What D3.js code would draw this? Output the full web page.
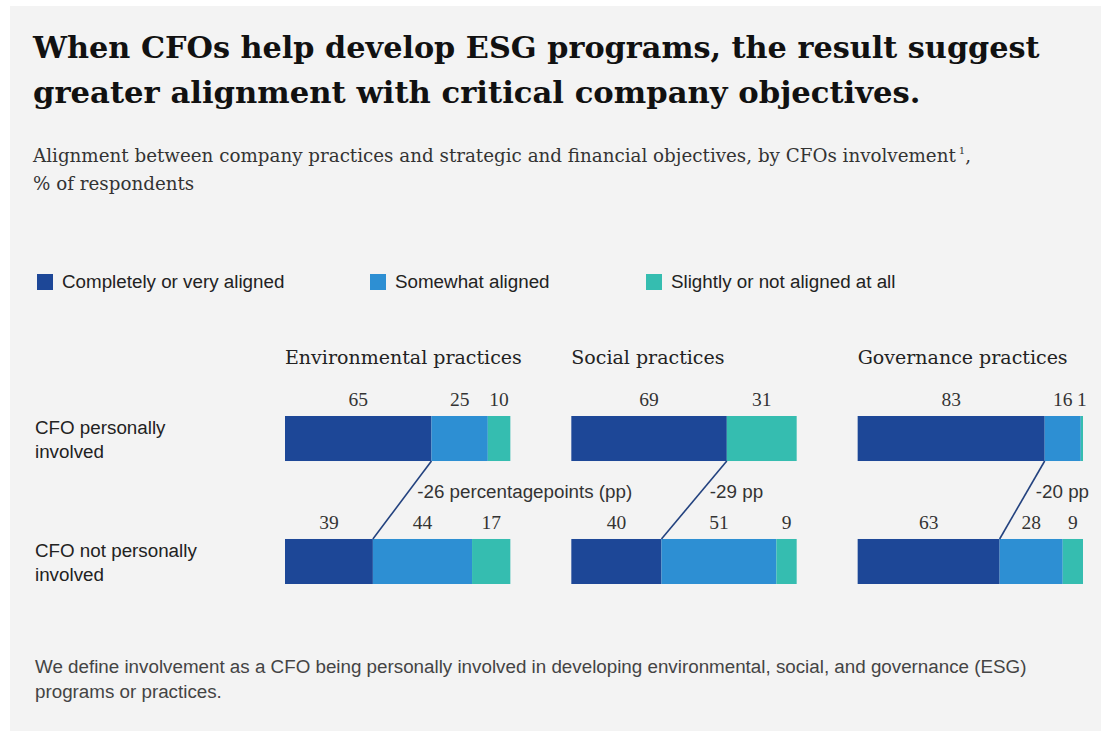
<!DOCTYPE html>
<html>
<head>
<meta charset="utf-8">
<script src="https://cdn.jsdelivr.net/npm/d3@7"></script>
<style>
  html, body { margin: 0; padding: 0; background: #ffffff; }
  svg { display: block; }
  .serif { font-family: "DejaVu Serif", "Liberation Serif", serif; }
  .num { font-family: "Liberation Serif", "DejaVu Serif", serif; }
  .sans { font-family: "Liberation Sans", Arial, sans-serif; }
</style>
</head>
<body>
<svg id="chart" width="1113" height="733"></svg>
<script>
// ---- data ----
const categories = ["Environmental practices", "Social practices", "Governance practices"];
const rowLabels = [["CFO personally", "involved"], ["CFO not personally", "involved"]];
const seriesNames = ["Completely or very aligned", "Somewhat aligned", "Slightly or not aligned at all"];

// CFO personally involved
const involvedCompletely = [65, 69, 83];
const involvedSomewhat   = [25, 0, 16];
const involvedSlightly   = [10, 31, 1];
// CFO not personally involved
const notInvolvedCompletely = [39, 40, 63];
const notInvolvedSomewhat   = [44, 51, 28];
const notInvolvedSlightly   = [17, 9, 9];

const diffSuffix = [" percentagepoints (pp)", " pp", " pp"];

const titleLines = [
  "When CFOs help develop ESG programs, the result suggest",
  "greater alignment with critical company objectives."
];
const subtitleLines = [
  "Alignment between company practices and strategic and financial objectives, by CFOs involvement",
  "% of respondents"
];
const footnoteLines = [
  "We define involvement as a CFO being personally involved in developing environmental, social, and governance (ESG)",
  "programs or practices."
];

// ---- setup ----
const colors = ["#1d4797", "#2d8fd3", "#35bdb0"];
const svg = d3.select("#chart");
const sansSize = 18.8;

svg.append("rect").attr("x", 10).attr("y", 6).attr("width", 1091).attr("height", 725)
  .attr("fill", "#f3f3f3");

// Scale the font so a text spans a given width
function fit(sel, width) {
  const node = sel.node();
  const fs = parseFloat(sel.attr("font-size"));
  const len = node.getComputedTextLength();
  sel.attr("font-size", (fs * width / len).toFixed(2));
  return sel;
}

// ---- title ----
const titleWidths = [1007, 888];
titleLines.forEach((t, i) => {
  const s = svg.append("text").attr("class", "serif")
    .attr("x", 33).attr("y", 58 + i * 45)
    .attr("font-size", 34).attr("font-weight", "bold").attr("fill", "#111")
    .text(t);
  fit(s, titleWidths[i]);
});

// ---- subtitle ----
const sub1 = svg.append("text").attr("class", "serif")
  .attr("x", 33).attr("y", 162).attr("font-size", 18).attr("fill", "#333");
sub1.append("tspan").text(subtitleLines[0]);
fit(sub1, 923);
const subFs = parseFloat(sub1.attr("font-size"));
sub1.append("tspan").attr("font-size", subFs * 0.55).attr("dy", -8).attr("dx", 3).text("1");
sub1.append("tspan").attr("dy", 8).text(",");
svg.append("text").attr("class", "serif")
  .attr("x", 33).attr("y", 190).attr("font-size", subFs).attr("fill", "#333")
  .text(subtitleLines[1]);

// ---- legend ----
const legendX = [37, 370, 646];
seriesNames.forEach((n, i) => {
  const g = svg.append("g").attr("transform", `translate(${legendX[i]},274)`);
  g.append("rect").attr("width", 16).attr("height", 16).attr("fill", colors[i]);
  g.append("text").attr("class", "sans").attr("x", 25).attr("y", 14)
    .attr("font-size", sansSize).attr("fill", "#222").text(n);
});

// ---- scales ----
const xBand = d3.scaleBand().domain(categories).range([285, 1083]).paddingInner(0.213);
const x = d3.scaleLinear().domain([0, 100]).range([0, xBand.bandwidth()]);
const rowKeys = ["involved", "notInvolved"];
const y = d3.scaleBand().domain(rowKeys).range([416, 584]).paddingInner(0.634);

const rows = {
  involved: [involvedCompletely, involvedSomewhat, involvedSlightly],
  notInvolved: [notInvolvedCompletely, notInvolvedSomewhat, notInvolvedSlightly]
};

// ---- row labels ----
rowKeys.forEach((k, i) => {
  rowLabels[i].forEach((line, j) => {
    svg.append("text").attr("class", "sans")
      .attr("x", 35).attr("y", y(k) + 18 + j * 24)
      .attr("font-size", sansSize).attr("fill", "#222").text(line);
  });
});

// ---- panels ----
categories.forEach((cat, ci) => {
  const g = svg.append("g").attr("transform", `translate(${xBand(cat)},0)`);

  g.append("text").attr("class", "serif")
    .attr("x", 0).attr("y", 364).attr("font-size", 19).attr("fill", "#222")
    .text(cat);

  rowKeys.forEach(k => {
    const vals = rows[k].map(s => s[ci]);
    const stacked = [];
    let acc = 0;
    vals.forEach((v, si) => { stacked.push({ s: si, v, x0: acc, x1: acc + v }); acc += v; });

    g.selectAll(null).data(stacked.filter(d => d.v > 0)).join("rect")
      .attr("x", d => x(d.x0)).attr("y", y(k))
      .attr("width", d => x(d.x1) - x(d.x0)).attr("height", y.bandwidth())
      .attr("fill", d => colors[d.s]);

    g.selectAll(null).data(stacked.filter(d => d.v > 0)).join("text")
      .attr("class", "num")
      .attr("x", d => (x(d.x0) + x(d.x1)) / 2)
      .attr("y", y(k) - 10)
      .attr("text-anchor", "middle").attr("font-size", 19.5).attr("fill", "#333")
      .text(d => d.v);
  });

  // connector between the "completely" segment ends
  const xTop = x(involvedCompletely[ci]);
  const yTop = y("involved") + y.bandwidth();
  const xBot = x(notInvolvedCompletely[ci]);
  const yBot = y("notInvolved");
  g.append("line")
    .attr("x1", xTop).attr("y1", yTop).attr("x2", xBot).attr("y2", yBot)
    .attr("stroke", "#23427f").attr("stroke-width", 1.6);

  const diff = notInvolvedCompletely[ci] - involvedCompletely[ci];
  const ty = 492;
  const lx = xTop + (xBot - xTop) * (ty - yTop) / (yBot - yTop);
  g.append("text").attr("class", "sans")
    .attr("x", lx + 9).attr("y", ty + 6)
    .attr("font-size", sansSize).attr("fill", "#333")
    .text(diff + diffSuffix[ci]);
});

// ---- footnote ----
let footSize = 16.5;
footnoteLines.forEach((t, i) => {
  const s = svg.append("text").attr("class", "sans")
    .attr("x", 35).attr("y", 673 + i * 25)
    .attr("font-size", footSize).attr("fill", "#444").text(t);
  if (i === 0) { fit(s, 992); footSize = parseFloat(s.attr("font-size")); }
});
</script>
</body>
</html>
